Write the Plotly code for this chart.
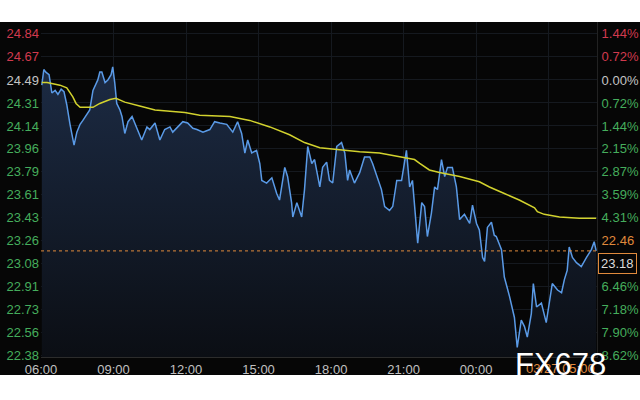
import pandas as pd
import plotly.graph_objects as go

# ---------------- data ----------------
session_start = pd.Timestamp("2020-03-26 06:00")
session_hours = 23

price_minutes = [2, 7, 12, 20, 27, 35, 42, 50, 57, 64, 72, 77, 82, 89, 97, 104, 112, 121, 129, 134,
                 141, 146, 151, 159, 166, 174, 178, 183, 188, 196, 201, 208, 216, 226, 233, 245, 250, 263, 270, 283,
                 295, 307, 320, 327, 340, 352, 364, 377, 387, 402, 419, 431, 444, 461, 476, 488, 498, 506, 513, 523,
                 535, 543, 548, 560, 573, 585, 592, 605, 612, 622, 625, 635, 647, 654, 662, 672, 679, 692, 699, 709,
                 716, 724, 734, 746, 754, 761, 766, 778, 791, 803, 816, 823, 835, 845, 853, 865, 873, 883, 895, 907,
                 915, 922, 935, 945, 952, 959, 969, 977, 984, 994, 1002, 1009, 1021, 1031, 1039, 1051, 1064, 1071, 1081, 1088,
                 1096, 1101, 1108, 1118, 1125, 1130, 1143, 1150, 1163, 1175, 1182, 1192, 1200, 1207, 1217, 1222, 1230, 1242, 1254, 1262,
                 1269, 1282, 1292, 1299, 1306, 1311, 1319, 1329, 1341, 1354, 1366, 1373, 1378]
price_values = [24.45, 24.57, 24.55, 24.53, 24.39, 24.41, 24.38, 24.42, 24.40, 24.30, 24.15, 24.07, 23.99, 24.09, 24.15, 24.18, 24.22, 24.26, 24.41, 24.44,
                24.49, 24.55, 24.55, 24.47, 24.49, 24.53, 24.59, 24.47, 24.31, 24.26, 24.21, 24.08, 24.17, 24.21, 24.16, 24.07, 24.03, 24.13, 24.11, 24.16,
                24.03, 24.11, 24.13, 24.09, 24.13, 24.17, 24.16, 24.12, 24.11, 24.09, 24.11, 24.17, 24.16, 24.15, 24.09, 24.17, 24.08, 23.93, 24.03, 23.93,
                23.95, 23.85, 23.72, 23.70, 23.74, 23.62, 23.57, 23.82, 23.75, 23.55, 23.44, 23.55, 23.44, 23.65, 23.98, 23.85, 23.88, 23.67, 23.82, 23.86,
                23.72, 23.70, 23.98, 24.01, 23.93, 23.72, 23.80, 23.70, 23.78, 23.90, 23.90, 23.85, 23.74, 23.65, 23.52, 23.49, 23.52, 23.72, 23.72, 23.95,
                23.67, 23.72, 23.24, 23.55, 23.52, 23.29, 23.47, 23.67, 23.65, 23.88, 23.75, 23.82, 23.82, 23.67, 23.42, 23.46, 23.39, 23.53, 23.39, 23.34,
                23.13, 23.10, 23.36, 23.40, 23.30, 23.29, 23.19, 22.98, 22.83, 22.67, 22.44, 22.65, 22.60, 22.52, 22.70, 22.93, 22.75, 22.78, 22.63, 22.80,
                22.93, 22.88, 22.86, 22.96, 23.03, 23.21, 23.13, 23.09, 23.06, 23.13, 23.19, 23.25, 23.18]

avg_minutes = [2, 15, 47, 64, 79, 87, 97, 114, 129, 146, 171, 186, 208, 245, 283, 320, 357, 394, 469, 518,
               568, 617, 654, 692, 754, 791, 840, 890, 927, 940, 964, 989, 1039, 1088, 1113, 1150, 1187, 1225, 1232, 1249,
               1287, 1336, 1378]
avg_values = [24.47, 24.47, 24.45, 24.43, 24.36, 24.31, 24.28, 24.28, 24.28, 24.31, 24.34, 24.35, 24.32, 24.29, 24.26, 24.25, 24.24, 24.22, 24.21, 24.18,
              24.13, 24.07, 24.01, 23.97, 23.95, 23.94, 23.93, 23.90, 23.88, 23.85, 23.80, 23.78, 23.75, 23.71, 23.67, 23.62, 23.57, 23.51, 23.48, 23.46,
              23.44, 23.43, 23.43]

base_price = 24.49
pct_levels = [1.44, 0.72, 0.00, -0.72, -1.44, -2.15, -2.87, -3.59, -4.31, -5.03, -5.75, -6.46, -7.18, -7.90, -8.62]
left_labels = ["24.84", "24.67", "24.49", "24.31", "24.14", "23.96", "23.79", "23.61", "23.43",
               "23.26", "23.08", "22.91", "22.73", "22.56", "22.38"]
right_labels = ["1.44%", "0.72%", "0.00%", "0.72%", "1.44%", "2.15%", "2.87%", "3.59%", "4.31%",
                "22.46", "", "6.46%", "7.18%", "7.90%", "8.62%"]
x_tick_hours = [0, 3, 6, 9, 12, 15, 18, 21]
x_tick_labels = ["06:00", "09:00", "12:00", "15:00", "18:00", "21:00", "00:00", ""]
cursor_label = "03/27 05:00"
low_label = "22.46"
watermark = "FX678"

# ---------------- styles ----------------
RED = "#d23a4e"
GREEN = "#45ad5c"
GREY = "#c4c4c4"
ORANGE = "#e08a3c"
FONT = "Liberation Sans, Arial, sans-serif"

price_x = [session_start + pd.Timedelta(minutes=m) for m in price_minutes]
avg_x = [session_start + pd.Timedelta(minutes=m) for m in avg_minutes]
x_end = session_start + pd.Timedelta(hours=session_hours)
tick_x = [session_start + pd.Timedelta(hours=h) for h in x_tick_hours]
tick_y = [base_price * (1 + p / 100) for p in pct_levels]


def colored(label, pct):
    c = RED if pct > 0 else (GREY if pct == 0 else GREEN)
    if label == low_label:
        c = ORANGE
    return f'<span style="color:{c}">{label}</span>'


left_text = [colored(l, p) for l, p in zip(left_labels, pct_levels)]
right_text = [colored(l, p) for l, p in zip(right_labels, pct_levels)]

y_range = [22.367, 24.934]
last_price = price_values[-1]

fig = go.Figure()
fig.add_trace(go.Scatter(
    x=price_x, y=price_values, mode="lines",
    line=dict(color="#5a9ae6", width=1.5),
    fill="tozeroy",
    fillgradient=dict(type="vertical", start=22.37, stop=24.6,
                      colorscale=[[0, "#0b0e14"], [1, "#1c2b44"]]),
    hoverinfo="skip", showlegend=False))
fig.add_trace(go.Scatter(
    x=avg_x, y=avg_values, mode="lines",
    line=dict(color="#d2d22e", width=1.5),
    hoverinfo="skip", showlegend=False))
fig.add_trace(go.Scatter(
    x=[session_start, x_end], y=[last_price, last_price], mode="lines",
    line=dict(color=ORANGE, width=1, dash="3px,3px"),
    yaxis="y2", hoverinfo="skip", showlegend=False))

fig.update_layout(
    width=640, height=400,
    margin=dict(l=41, r=43, t=22, b=43),
    paper_bgcolor="white",
    plot_bgcolor="#060606",
    font=dict(family=FONT, size=13, color=GREY),
    xaxis=dict(range=[session_start, x_end], tickvals=tick_x, ticktext=x_tick_labels,
               showgrid=True, gridcolor="#15191f", gridwidth=1, zeroline=False,
               showline=True, linecolor="#2c2c2c", linewidth=1, automargin=False,
               tickfont=dict(family=FONT, size=13, color="#c0c0c0")),
    yaxis=dict(range=y_range, tickvals=tick_y, ticktext=left_text, automargin=False,
               showgrid=True, gridcolor="#15191f", gridwidth=1, zeroline=False,
               tickfont=dict(family=FONT, size=13), ticklabelstandoff=1),
    yaxis2=dict(range=y_range, tickvals=tick_y, ticktext=right_text, overlaying="y", side="right",
                showgrid=False, zeroline=False, showline=True, linecolor="#222222", automargin=False,
                tickfont=dict(family=FONT, size=13), ticklabelstandoff=1),
)

# black band behind everything
fig.add_shape(type="rect", xref="paper", yref="paper",
              x0=-41 / 556, x1=599 / 556, y0=-18 / 335, y1=1.0,
              fillcolor="#060606", line=dict(width=0), layer="below")

# current price box on the right axis
fig.add_annotation(x=1.0, xref="paper", xanchor="left", xshift=1,
                   y=tick_y[pct_levels.index(-5.75)], yref="y",
                   text=f"{last_price:.2f}", showarrow=False,
                   font=dict(family=FONT, size=13, color="#dcdcdc"),
                   bordercolor=ORANGE, borderwidth=1, borderpad=2, bgcolor="#060606")

# cursor time label
fig.add_annotation(x=1.0, xref="paper", xanchor="right", y=0, yref="paper", yanchor="top",
                   yshift=-2, text=cursor_label, showarrow=False,
                   font=dict(family=FONT, size=13, color=ORANGE))
# watermark
fig.add_annotation(x=(560 - 41) / 556, xref="paper", xanchor="center",
                   y=(357 - 364) / 335, yref="paper", yanchor="middle",
                   text=watermark, showarrow=False,
                   font=dict(family=FONT, size=31, color="white"))

fig.write_html("out.html",
               config={"displayModeBar": False},
               post_script="document.body.style.margin='0';document.body.style.padding='0';")
